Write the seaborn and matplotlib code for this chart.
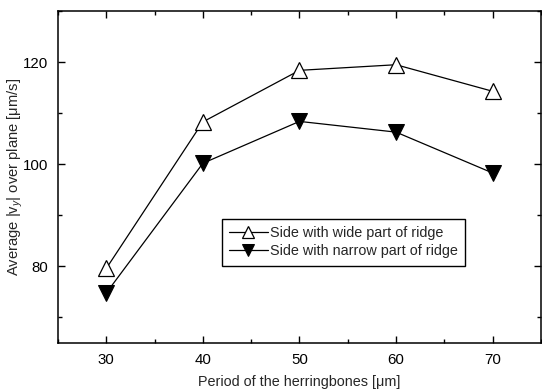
import matplotlib
matplotlib.use("Agg")
import matplotlib.pyplot as plt
import seaborn as sns
import pandas as pd
from matplotlib.ticker import MultipleLocator

period = [30, 40, 50, 60, 70]
wide = [79.6, 108.3, 118.4, 119.5, 114.3]
narrow = [74.8, 100.2, 108.4, 106.3, 98.3]
labels = ["Side with wide part of ridge", "Side with narrow part of ridge"]

sns.set_style("ticks")
plt.rcParams['font.family'] = ['Liberation Sans', 'DejaVu Sans']
plt.rcParams['mathtext.fontset'] = 'custom'
plt.rcParams['mathtext.rm'] = 'Liberation Sans'
plt.rcParams['mathtext.it'] = 'Liberation Sans:italic'

df = pd.DataFrame({
    "period": period * 2,
    "value": wide + narrow,
    "series": [labels[0]] * len(period) + [labels[1]] * len(period),
})

fig = plt.figure(figsize=(5.42, 3.90), dpi=100)
ax = fig.add_axes([0.107, 0.1205, 0.891, 0.851])

sns.lineplot(data=df[df.series == labels[0]], x="period", y="value", ax=ax,
             color="black", lw=0.9, marker="^", markersize=11,
             markerfacecolor="white", markeredgecolor="black", markeredgewidth=0.9,
             label=labels[0])
sns.lineplot(data=df[df.series == labels[1]], x="period", y="value", ax=ax,
             color="black", lw=0.9, marker="v", markersize=11,
             markerfacecolor="black", markeredgecolor="black",
             label=labels[1])

ax.set_xlim(25, 75)
ax.set_ylim(65, 130)
ax.xaxis.set_major_locator(MultipleLocator(10))
ax.xaxis.set_minor_locator(MultipleLocator(5))
ax.yaxis.set_major_locator(MultipleLocator(20))
ax.yaxis.set_minor_locator(MultipleLocator(10))
ax.tick_params(which="both", direction="in", top=True, right=True, labelsize=10.8,
               colors="black", width=1)
ax.tick_params(which="major", length=5, pad=7)
ax.tick_params(which="minor", length=3)
for s in ax.spines.values():
    s.set_linewidth(1.1)
    s.set_color("black")

ax.set_xlabel("Period of the herringbones [μm]", fontsize=10.4, labelpad=6)
ax.set_ylabel("Average |v$_{y}$| over plane [μm/s]", fontsize=10.6)
ax.yaxis.set_label_coords(-0.068, 0.5)

leg = ax.legend(loc="lower left", bbox_to_anchor=(0.339, 0.233), fontsize=10.4,
                frameon=True, fancybox=False, edgecolor="black", framealpha=1,
                handlelength=2.7, handletextpad=0.15, borderpad=0.5,
                labelspacing=0.3, borderaxespad=0, markerscale=0.85)
leg.get_frame().set_linewidth(1)

fig.savefig("out.png", dpi=100)
